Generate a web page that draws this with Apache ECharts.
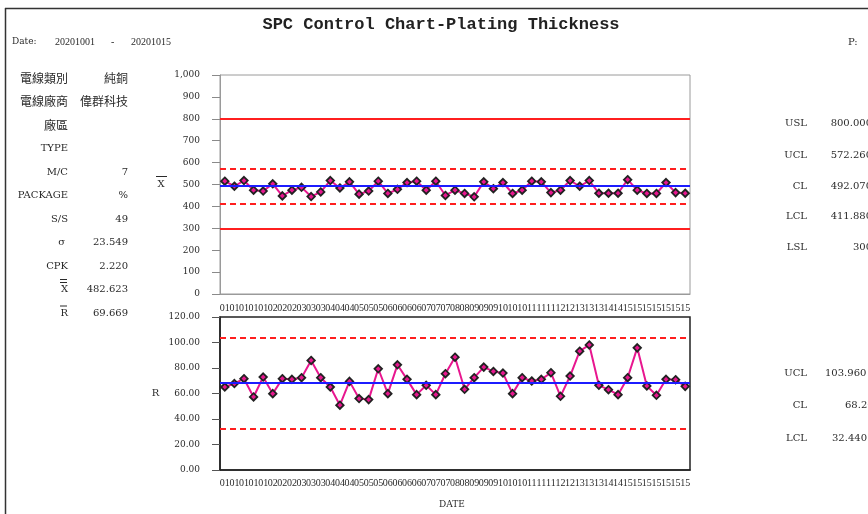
<!DOCTYPE html>
<html>
<head>
<meta charset="utf-8">
<script src="https://cdn.jsdelivr.net/npm/echarts@6/dist/echarts.min.js"></script>
<style>
html, body { margin: 0; padding: 0; background: #fff; }
#chart { width: 868px; height: 514px; }
</style>
</head>
<body>
<div id="chart"></div>
<script>
// Sample day of each subgroup (2020-10-01 .. 2020-10-15)
const sampleDays = [
  '01','01','01','01','01','02','02','02','03','03','03','04','04','04',
  '05','05','05','06','06','06','06','07','07','07','08','08','09','09','09',
  '10','10','10','11','11','11','12','12','13','13','13','14','14',
  '15','15','15','15','15','15','15'
];

// Subgroup means (X-bar)
const xbarValues = [
  515, 492, 518, 474, 470, 503, 448, 474, 487, 445, 466, 518, 484, 512, 456, 470,
  515, 459, 478, 509, 515, 474, 515, 450, 474, 459, 444, 512, 481, 509, 459, 474,
  515, 512, 463, 474, 518, 492, 518, 460, 460, 460, 522, 474, 459, 459, 509, 463, 460
];

// Subgroup ranges (R)
const rangeValues = [
  65.1, 67.8, 71.6, 57.3, 72.9, 59.9, 71.6, 71.1, 72.4, 85.9, 72.4, 65.1, 50.8,
  69.5, 56.0, 55.2, 79.4, 59.9, 82.5, 71.1, 59.1, 66.4, 59.1, 75.5, 88.5, 63.3,
  72.4, 80.7, 77.3, 76.0, 59.9, 72.4, 69.8, 71.1, 76.3, 57.8, 73.7, 93.2, 98.1,
  66.4, 63.0, 59.1, 72.4, 95.8, 65.9, 58.6, 71.1, 70.8, 65.6
];

// Specification / control limits for the X-bar chart
const xbarLimitNames  = ['USL', 'UCL', 'CL', 'LCL', 'LSL'];
const xbarLimitValues = [800, 572.26, 492.07, 411.88, 300];
const xbarLimitTexts  = ['800.000', '572.260', '492.070', '411.880', '300'];

// Control limits for the R chart
const rangeLimitNames  = ['UCL', 'CL', 'LCL'];
const rangeLimitValues = [103.96, 68.2, 32.44];
const rangeLimitTexts  = ['103.960', '68.200', '32.440'];

// Process information panel
const infoLabels = ['電線類別', '電線廠商', '廠區', 'TYPE', 'M/C', 'PACKAGE', 'S/S', 'σ', 'CPK', 'X', 'R'];
const infoValues = ['純銅', '偉群科技', '', '', '7', '%', '49', '23.549', '2.220', '482.623', '69.669'];

// Header texts
const titleText = 'SPC Control Chart-Plating Thickness';
const dateFrom = '20201001';
const dateTo = '20201015';

const TXT = '#2a2a2a';
const SERIF = '"DejaVu Serif", serif';
const CJK = '"Noto Sans CJK TC", sans-serif';
const isCJK = s => /[\u3400-\u9fff]/.test(s);

const lineColor = '#e8168f';
const red = '#ff1f1f';
const blue = '#1c1cff';

function limitStyle(name) {
  if (name === 'CL') return { color: blue, width: 2, type: 'solid' };
  if (name === 'USL' || name === 'LSL') return { color: red, width: 2, type: 'solid' };
  return { color: red, width: 2, type: [6, 4] };
}

function limitLines(names, values) {
  return names.map((n, i) => ({ yAxis: values[i], lineStyle: limitStyle(n) }));
}

// ---------- graphic texts ----------
const graphics = [];
function text(str, x, y, opts) {
  graphics.push({
    type: 'text', silent: true,
    style: Object.assign({
      text: str, x: x, y: y, fill: TXT,
      font: '10px ' + SERIF, align: 'left', verticalAlign: 'middle'
    }, opts || {})
  });
}
function hline(x1, x2, y, color, w) {
  graphics.push({
    type: 'line', silent: true,
    shape: { x1: x1, y1: y, x2: x2, y2: y },
    style: { stroke: color || TXT, lineWidth: w || 1 }
  });
}
function vline(x, y1, y2, color, w) {
  graphics.push({
    type: 'line', silent: true,
    shape: { x1: x, y1: y1, x2: x, y2: y2 },
    style: { stroke: color || TXT, lineWidth: w || 1 }
  });
}

// page frame
hline(5, 868, 8.5, '#333', 1.5);
vline(5.5, 8, 514, '#333', 1.5);

// title + header line
text(titleText, 441, 25, { font: 'bold 17px "Liberation Mono", monospace', align: 'center', fill: '#222' });
text('Date:', 12, 42, { font: '9px ' + SERIF });
text(dateFrom, 55, 42, { font: '10px "Liberation Serif", serif' });
text('-', 111, 42, { font: '10px "Liberation Serif", serif' });
text(dateTo, 131, 42, { font: '10px "Liberation Serif", serif' });
text('P:', 848, 42, { font: '10px ' + SERIF });

// information panel
const rowY0 = 78, rowStep = 23.5;
infoLabels.forEach((lab, i) => {
  const y = rowY0 + i * rowStep;
  const lx = lab === 'σ' ? 65 : 68;
  text(lab, lx, y, { align: 'right', font: (isCJK(lab) ? '12px ' + CJK : '10px ' + SERIF) });
  const v = infoValues[i];
  if (v) text(v, 128, y, { align: 'right', font: (isCJK(v) ? '12px ' + CJK : '10px ' + SERIF) });
});
// bars over the mean symbols
const yX = rowY0 + 9 * rowStep, yR = rowY0 + 10 * rowStep;
hline(60, 67, yX - 7, TXT, 1);
hline(60, 67, yX - 10, TXT, 1);
hline(60, 67, yR - 7, TXT, 1);

// axis names
text('X', 161, 184, { align: 'center', font: '10px ' + SERIF });
hline(156, 167, 176.5, TXT, 1);
text('R', 155.5, 393, { align: 'center', font: '10px ' + SERIF });
text('DATE', 452, 505, { align: 'center', font: '9px ' + SERIF });

// limit summaries on the right
const xbarRows = [123, 155, 186, 216, 247];
xbarLimitNames.forEach((n, i) => {
  text(n, 807, xbarRows[i], { align: 'right', font: '10px ' + SERIF });
  text(xbarLimitTexts[i], 872, xbarRows[i], { align: 'right', font: '10px ' + SERIF });
});
const rangeRows = [373, 405, 438];
const rangeTextX = [825, 845, 832];
rangeLimitNames.forEach((n, i) => {
  text(n, 807, rangeRows[i], { align: 'right', font: '10px ' + SERIF });
  text(rangeLimitTexts[i], rangeTextX[i], rangeRows[i], { font: '10px ' + SERIF });
});

// ---------- chart ----------
const chart = echarts.init(document.getElementById('chart'), null, { renderer: 'canvas' });

const catAxisLabel = (margin) => ({
  interval: 0, margin: margin, color: TXT,
  fontFamily: '"Liberation Serif", serif', fontSize: 10
});

const pointStyle = {
  symbol: 'diamond', symbolSize: 7.5,
  lineStyle: { color: lineColor, width: 2 },
  itemStyle: { color: lineColor, borderColor: '#222', borderWidth: 1.8 }
};

chart.setOption({
  animation: false,
  backgroundColor: '#fff',
  grid: [
    { left: 220, right: 178, top: 75, height: 219, show: true, borderColor: '#9a9a9a', borderWidth: 1 },
    { left: 220, right: 178, top: 317, height: 153, show: true, borderColor: '#222', borderWidth: 1.5 }
  ],
  xAxis: [
    {
      type: 'category', gridIndex: 0, data: sampleDays, boundaryGap: true,
      axisLine: { lineStyle: { color: '#9a9a9a' } },
      axisTick: { alignWithLabel: true, length: 4, interval: 0, lineStyle: { color: '#777' } },
      axisLabel: catAxisLabel(9)
    },
    {
      type: 'category', gridIndex: 1, data: sampleDays, boundaryGap: true,
      axisLine: { lineStyle: { color: '#222', width: 1.5 } },
      axisTick: { alignWithLabel: true, length: 4, interval: 0, lineStyle: { color: '#555' } },
      axisLabel: catAxisLabel(8)
    }
  ],
  yAxis: [
    {
      type: 'value', gridIndex: 0, min: 0, max: 1000, interval: 100,
      splitLine: { show: false },
      axisLine: { show: true, lineStyle: { color: '#9a9a9a' } },
      axisTick: { show: true, length: 8, lineStyle: { color: '#8a8a8a' } },
      axisLabel: {
        margin: 20, color: TXT, fontFamily: SERIF, fontSize: 9,
        formatter: v => v >= 1000 ? Math.floor(v / 1000) + ',' + String(v % 1000).padStart(3, '0') : String(v)
      }
    },
    {
      type: 'value', gridIndex: 1, min: 0, max: 120, interval: 20,
      splitLine: { show: false },
      axisLine: { show: true, lineStyle: { color: '#222', width: 1.5 } },
      axisTick: { show: true, length: 8, lineStyle: { color: '#555' } },
      axisLabel: {
        margin: 20, color: TXT, fontFamily: SERIF, fontSize: 9,
        formatter: v => v.toFixed(2)
      }
    }
  ],
  series: [
    {
      name: 'X-bar limits', type: 'line', xAxisIndex: 0, yAxisIndex: 0, data: [], z: 1,
      markLine: { silent: true, symbol: 'none', label: { show: false }, animation: false,
        data: limitLines(xbarLimitNames, xbarLimitValues) }
    },
    Object.assign({
      name: 'X-bar', type: 'line', xAxisIndex: 0, yAxisIndex: 0, data: xbarValues, z: 3
    }, pointStyle),
    {
      name: 'R limits', type: 'line', xAxisIndex: 1, yAxisIndex: 1, data: [], z: 1,
      markLine: { silent: true, symbol: 'none', label: { show: false }, animation: false,
        data: limitLines(rangeLimitNames, rangeLimitValues) }
    },
    Object.assign({
      name: 'R', type: 'line', xAxisIndex: 1, yAxisIndex: 1, data: rangeValues, z: 3
    }, pointStyle)
  ],
  graphic: graphics
});
</script>
</body>
</html>
